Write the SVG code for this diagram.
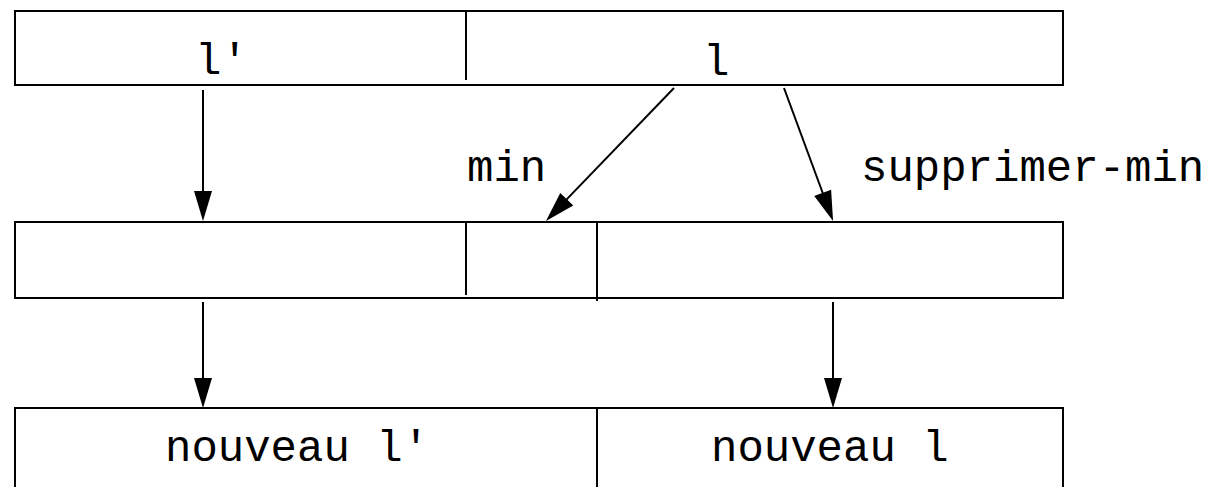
<svg xmlns="http://www.w3.org/2000/svg" width="1205" height="487" viewBox="0 0 1205 487">
  <style>
    .box { fill: #fff; stroke: #000; stroke-width: 2; }
    .sep { stroke: #000; stroke-width: 2; fill: none; }
    .lbl { font-family: "Courier New", "Liberation Mono", monospace; font-size: 44px; fill: #000; }
    .arr { stroke: #000; stroke-width: 2; fill: none; marker-end: url(#head); }
  </style>
  <defs>
    <marker id="head" markerUnits="userSpaceOnUse" markerWidth="32" markerHeight="20" refX="5" refY="9" orient="auto" overflow="visible">
      <path d="M0,0 L30,9 L0,18 Z" fill="#000"/>
    </marker>
  </defs>
  <rect width="1205" height="487" fill="#fff"/>

  <!-- top list: l' | l -->
  <g id="top">
    <rect class="box" x="15" y="11" width="1048" height="74"/>
    <line class="sep" x1="466" y1="11" x2="466" y2="80"/>
    <text class="lbl" x="195" y="74">l'</text>
    <text class="lbl" x="703" y="75">l</text>
  </g>

  <!-- middle list: three parts -->
  <g id="middle">
    <rect class="box" x="15" y="222" width="1048" height="76"/>
    <line class="sep" x1="466" y1="222" x2="466" y2="295"/>
    <line class="sep" x1="597" y1="222" x2="597" y2="301"/>
  </g>

  <!-- bottom list: nouveau l' | nouveau l -->
  <g id="bottom">
    <rect class="box" x="15" y="408" width="1048" height="100"/>
    <line class="sep" x1="597" y1="408" x2="597" y2="487"/>
    <text class="lbl" x="165" y="461">nouveau l'</text>
    <text class="lbl" x="711" y="461">nouveau l</text>
  </g>

  <!-- edge labels -->
  <g id="labels">
    <text class="lbl" x="467" y="181">min</text>
    <text class="lbl" x="861" y="181">supprimer-min</text>
  </g>

  <!-- connectors -->
  <g id="connectors">
    <line class="arr" x1="203" y1="90" x2="203" y2="196"/>
    <line class="arr" x1="674" y1="88" x2="563.3" y2="202.9"/>
    <line class="arr" x1="784" y1="88" x2="824.4" y2="197.5"/>
    <line class="arr" x1="203" y1="302" x2="203" y2="383"/>
    <line class="arr" x1="833" y1="302" x2="833" y2="383"/>
  </g>
</svg>
